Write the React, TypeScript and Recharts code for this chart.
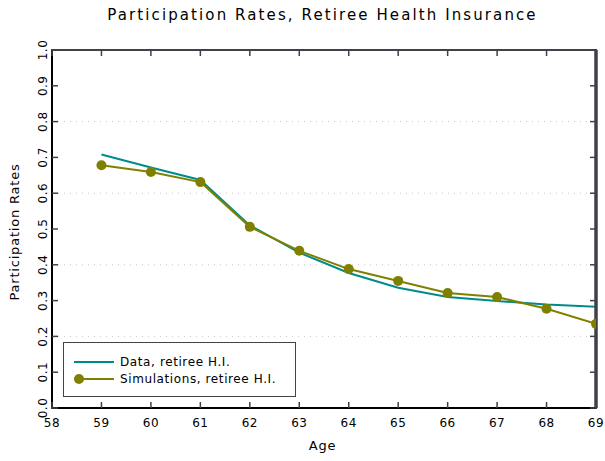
import React from "react";
import { LineChart, Line, XAxis, YAxis, ReferenceLine, ReferenceArea } from "recharts";

const ages = [59, 60, 61, 62, 63, 64, 65, 66, 67, 68, 69];
const dataRates = [0.708, 0.672, 0.637, 0.51, 0.434, 0.377, 0.336, 0.31, 0.299, 0.289, 0.283];
const simRates = [0.678, 0.659, 0.631, 0.506, 0.439, 0.388, 0.355, 0.321, 0.31, 0.277, 0.235];
const xTicks = [58, 59, 60, 61, 62, 63, 64, 65, 66, 67, 68, 69];
const yTicks = [0, 0.1, 0.2, 0.3, 0.4, 0.5, 0.6, 0.7, 0.8, 0.9, 1.0];
const gridValues = [0.2, 0.4, 0.6, 0.8];

const rows = ages.map((a, i) => ({ age: a, data: dataRates[i], sim: simRates[i] }));

const W = 605;
const H = 461;
const M = { top: 44, right: 3, bottom: 0, left: 0 };
const PLOT_TOP = 50;
const PLOT_RIGHT = 596;
const FONT = "'DejaVu Sans', sans-serif";
const TEAL = "#008b8b";
const OLIVE = "#808000";
const INK = "#404048";

const BottomTick = (p: any) => {
  const y0 = p.y;
  return (
    <g>
      <line x1={p.x} x2={p.x} y1={y0} y2={y0 - 6} stroke={INK} strokeWidth={1.5} />
      <line x1={p.x} x2={p.x} y1={PLOT_TOP} y2={PLOT_TOP + 6} stroke={INK} strokeWidth={1.5} />
      <text x={p.x} y={y0 + 19} textAnchor="middle" fontFamily={FONT} fontSize={12} letterSpacing={0.5} fill="#000">
        {p.payload.value}
      </text>
    </g>
  );
};

const LeftTick = (p: any) => (
  <g>
    <line x1={p.x} x2={p.x + 6} y1={p.y} y2={p.y} stroke={INK} strokeWidth={1.5} />
    <line x1={PLOT_RIGHT} x2={PLOT_RIGHT - 6} y1={p.y} y2={p.y} stroke={INK} strokeWidth={1.5} />
    <text
      x={0}
      y={0}
      transform={`translate(${p.x - 5},${p.y}) rotate(-90)`}
      textAnchor="middle"
      fontFamily={FONT}
      fontSize={12}
      letterSpacing={0.5}
      fill="#000"
    >
      {Number(p.payload.value).toFixed(1)}
    </text>
  </g>
);

const NoTick = () => <g />;

const LegendBox = () => (
  <div
    style={{
      position: "absolute",
      left: 63,
      top: 342,
      width: 231,
      height: 53,
      border: "1px solid #444",
      background: "#fff",
      fontFamily: FONT,
      fontSize: 12,
      letterSpacing: 0.6,
      color: "#000",
      boxSizing: "content-box",
    }}
  >
    <div style={{ display: "flex", alignItems: "center", height: 17, marginTop: 10 }}>
      <svg width={56} height={12}>
        <line x1={10} x2={50} y1={6} y2={6} stroke={TEAL} strokeWidth={2} />
      </svg>
      <span>Data, retiree H.I.</span>
    </div>
    <div style={{ display: "flex", alignItems: "center", height: 17 }}>
      <svg width={56} height={12}>
        <line x1={10} x2={50} y1={6} y2={6} stroke={OLIVE} strokeWidth={2} />
        <circle cx={15} cy={6} r={5} fill={OLIVE} />
      </svg>
      <span>Simulations, retiree H.I.</span>
    </div>
  </div>
);

export default function App() {
  return (
    <div style={{ position: "absolute", left: 0, top: 0, width: W, height: H, background: "#fff" }}>
      <div
        style={{
          position: "absolute",
          left: 0,
          top: 6,
          width: W,
          textAlign: "center",
          fontFamily: FONT,
          fontSize: 15,
          letterSpacing: 2.1,
          color: "#000",
          paddingLeft: 40,
          boxSizing: "border-box",
        }}
      >
        Participation Rates, Retiree Health Insurance
      </div>
      <div
        style={{
          position: "absolute",
          left: 0,
          top: 438,
          width: W,
          textAlign: "center",
          fontFamily: FONT,
          fontSize: 13,
          letterSpacing: 0.8,
          paddingLeft: 40,
          boxSizing: "border-box",
        }}
      >
        Age
      </div>
      <svg style={{ position: "absolute", left: 0, top: 0, pointerEvents: "none" }} width={30} height={H}>
        <text
          transform={`translate(19,${232}) rotate(-90)`}
          textAnchor="middle"
          fontFamily={FONT}
          fontSize={13}
          letterSpacing={0.8}
          fill="#000"
        >
          Participation Rates
        </text>
      </svg>
      <div style={{ position: "absolute", left: 0, top: 0 }}>
        <LineChart width={W} height={H} data={rows} margin={M}>
          <XAxis
            xAxisId="b"
            dataKey="age"
            type="number"
            domain={[58, 69]}
            ticks={xTicks}
            allowDataOverflow
            height={53}
            axisLine={{ stroke: "#000", strokeWidth: 2 }}
            tickLine={false}
            tickSize={0}
            tickMargin={0}
            tick={<BottomTick />}
            interval={0}
          />
          <XAxis
            xAxisId="t"
            orientation="top"
            dataKey="age"
            type="number"
            domain={[58, 69]}
            ticks={xTicks}
            allowDataOverflow
            height={6}
            axisLine={{ stroke: INK, strokeWidth: 2 }}
            tickLine={false}
            tickSize={0}
            tickMargin={0}
            tick={<NoTick />}
            interval={0}
          />
          <YAxis
            yAxisId="l"
            type="number"
            domain={[0, 1]}
            ticks={yTicks}
            width={52}
            axisLine={{ stroke: "#000", strokeWidth: 2 }}
            tickLine={false}
            tickSize={0}
            tickMargin={0}
            tick={<LeftTick />}
            interval={0}
          />
          <YAxis
            yAxisId="r"
            orientation="right"
            type="number"
            domain={[0, 1]}
            ticks={yTicks}
            allowDataOverflow
            width={6}
            axisLine={{ stroke: INK, strokeWidth: 3 }}
            tickLine={false}
            tickSize={0}
            tickMargin={0}
            tick={<NoTick />}
            interval={0}
          />
          {gridValues.map((v) => (
            <ReferenceLine
              key={`g${v}`}
              xAxisId="b"
              yAxisId="l"
              y={v}
              stroke="#c8c8d0"
              strokeDasharray="1 5"
              strokeWidth={1}
            />
          ))}
          <ReferenceLine key="top" xAxisId="b" yAxisId="l" y={1} ifOverflow="visible" stroke={INK} strokeWidth={2} />
          <ReferenceLine key="right" xAxisId="b" yAxisId="l" x={69} ifOverflow="visible" stroke={INK} strokeWidth={3} />
          <ReferenceArea
            key="frame"
            xAxisId="b"
            yAxisId="l"
            x1={58}
            x2={69}
            y1={0}
            y2={1}
            ifOverflow="visible"
            fill="none"
            stroke={INK}
            strokeWidth={2}
          />
          <Line
            key="hidden"
            xAxisId="t"
            yAxisId="r"
            dataKey="sim"
            stroke="none"
            dot={false}
            activeDot={false}
            legendType="none"
            isAnimationActive={false}
          />
          <Line
            key="data"
            xAxisId="b"
            yAxisId="l"
            dataKey="data"
            stroke={TEAL}
            strokeWidth={2}
            dot={false}
            isAnimationActive={false}
          />
          <Line
            key="sim"
            xAxisId="b"
            yAxisId="l"
            dataKey="sim"
            stroke={OLIVE}
            strokeWidth={2}
            dot={{ r: 5, fill: OLIVE, stroke: OLIVE, strokeWidth: 0 }}
            isAnimationActive={false}
          />
        </LineChart>
      </div>
      <LegendBox />
    </div>
  );
}
